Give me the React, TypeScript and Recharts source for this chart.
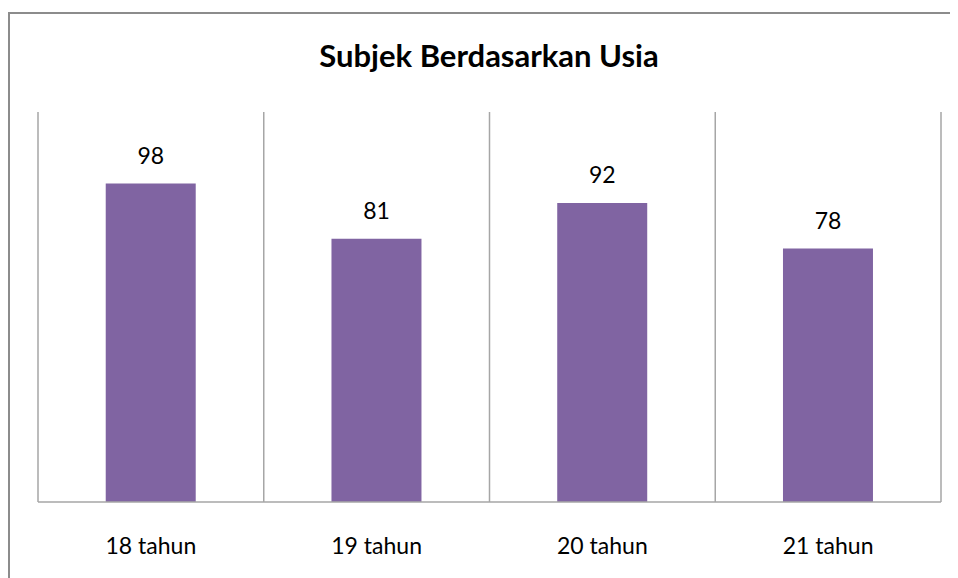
import { Bar, BarChart, CartesianGrid, LabelList, XAxis, YAxis } from "recharts";

const categories = ["18 tahun", "19 tahun", "20 tahun", "21 tahun"];
const counts = [98, 81, 92, 78];

const data = categories.map((usia, i) => ({ usia, jumlah: counts[i] }));

const FONT = "Lato, 'Open Sans', sans-serif";

function CategoryTick(props: any) {
  const { x, y, payload } = props;
  return (
    <text x={x} y={y + 35} textAnchor="middle" dominantBaseline="central" fill="#000" fontSize={23} fontFamily={FONT}>
      {payload.value}
    </text>
  );
}

export default function App() {
  return (
    <div style={{ position: "relative", width: 950, height: 570, background: "#fff", overflow: "hidden" }}>
      <div
        style={{
          position: "absolute",
          left: 0,
          top: 4,
          width: 970,
          height: 566,
          borderTop: "2px solid #8c8c8c",
          borderLeft: "2px solid #8c8c8c",
          boxSizing: "border-box",
        }}
      />
      <div
        style={{
          position: "absolute",
          left: 0,
          width: 962,
          top: 28,
          textAlign: "center",
          fontFamily: FONT,
          fontWeight: 700,
          fontSize: 31,
          color: "#000",
        }}
      >
        Subjek Berdasarkan Usia
      </div>
      <div style={{ position: "absolute", left: 0, top: 0 }}>
        <BarChart
          width={950}
          height={570}
          data={data}
          margin={{ top: 104, right: 17, left: 30, bottom: 0 }}
          barCategoryGap="30%"
        >
          <CartesianGrid
            horizontal={false}
            stroke="#a6a6a6"
            strokeWidth={1.5}
            verticalCoordinatesGenerator={({ offset }: any) =>
              [...categories, ""].map((_, i) => offset.left + (i * offset.width) / categories.length)
            }
          />
          <XAxis
            dataKey="usia"
            height={76}
            axisLine={{ stroke: "#a6a6a6", strokeWidth: 1.5 }}
            tickLine={false}
            tick={<CategoryTick />}
          />
          <YAxis hide domain={[0, 120]} />
          <Bar dataKey="jumlah" fill="#8064a2" isAnimationActive={false}>
            <LabelList dataKey="jumlah" position="top" offset={20} fill="#000" fontSize={23} fontFamily={FONT} />
          </Bar>
        </BarChart>
      </div>
    </div>
  );
}
